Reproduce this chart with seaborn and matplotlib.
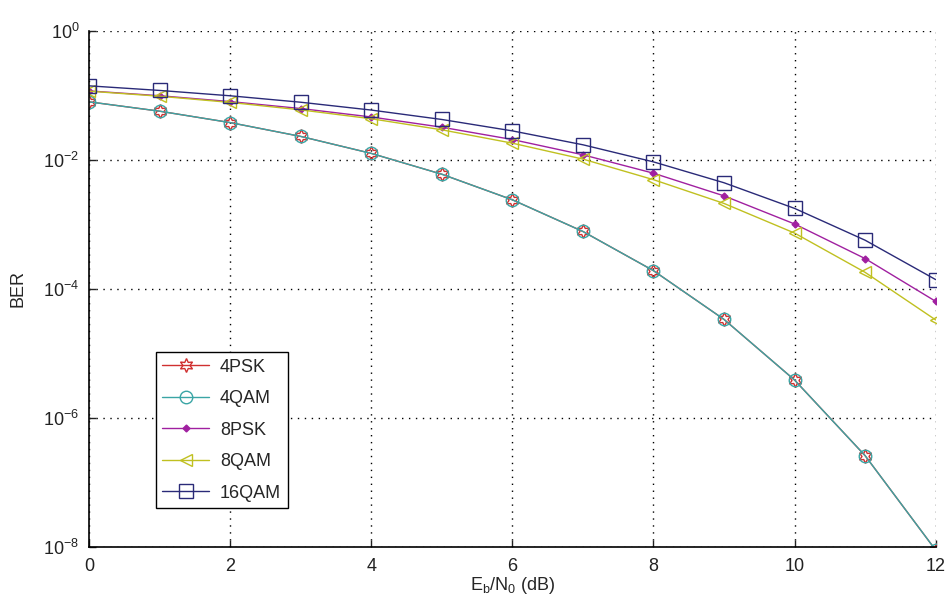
import numpy as np
import pandas as pd
import matplotlib
matplotlib.use("Agg")
import matplotlib.pyplot as plt
import seaborn as sns

ebn0 = [0, 1, 2, 3, 4, 5, 6, 7, 8, 9, 10, 11, 12]
ber_4psk = [0.0786, 0.0563, 0.0375, 0.0229, 0.0125, 0.00595, 0.00239, 7.73e-4, 1.91e-4, 3.36e-5, 3.87e-6, 2.61e-7, 9.0e-9]
ber_4qam = [0.0786, 0.0563, 0.0375, 0.0229, 0.0125, 0.00595, 0.00239, 7.73e-4, 1.91e-4, 3.36e-5, 3.87e-6, 2.61e-7, 9.0e-9]
ber_8psk = [0.116, 0.0977, 0.0793, 0.0619, 0.0458, 0.0318, 0.0205, 0.0119, 0.00617, 0.00275, 0.00101, 2.94e-4, 6.4e-5]
ber_8qam = [0.115, 0.096, 0.077, 0.059, 0.043, 0.029, 0.018, 0.0102, 0.0049, 0.0021, 7.3e-4, 1.8e-4, 3.3e-5]
ber_16qam = [0.139, 0.118, 0.0975, 0.0775, 0.0586, 0.0419, 0.0279, 0.0170, 0.00924, 0.00439, 0.00176, 5.66e-4, 1.39e-4]

series = [
    ("4PSK", ber_4psk, "#d03030", (6, 1, 0), 10, "none"),
    ("4QAM", ber_4qam, "#3aa5a5", "o", 9, "none"),
    ("8PSK", ber_8psk, "#a020a0", "D", 3.5, "#a020a0"),
    ("8QAM", ber_8qam, "#c0c020", "<", 9, "none"),
    ("16QAM", ber_16qam, "#2a2a78", "s", 10, "none"),
]

sns.set_style("white")
plt.rcParams["font.family"] = ["Liberation Sans", "DejaVu Sans"]
plt.rcParams["mathtext.fontset"] = "custom"
plt.rcParams["mathtext.rm"] = "Liberation Sans"
plt.rcParams["mathtext.it"] = "Liberation Sans"

fig, ax = plt.subplots(figsize=(9.48, 6.10), dpi=100)
fig.subplots_adjust(left=0.094, right=0.987, top=0.95, bottom=0.103)

for name, vals, col, mk, ms, fc in series:
    df = pd.DataFrame({"x": ebn0, "y": vals})
    sns.lineplot(data=df, x="x", y="y", ax=ax, color=col, marker=mk,
                 markersize=ms, markerfacecolor=fc, markeredgecolor=col,
                 markeredgewidth=1.0, linewidth=1.0, label=name)

ax.set_yscale("log")
ax.set_xlim(0, 12)
ax.set_ylim(1e-8, 1)
ax.set_xticks([0, 2, 4, 6, 8, 10, 12])
ax.set_yticks([1e0, 1e-2, 1e-4, 1e-6, 1e-8])
ax.set_yticklabels([r"$10^{0}$", r"$10^{-2}$", r"$10^{-4}$", r"$10^{-6}$", r"$10^{-8}$"])
ax.yaxis.set_minor_locator(matplotlib.ticker.NullLocator())
ax.tick_params(direction="in", length=5, width=1, labelsize=13, colors="#222222",
               left=True, bottom=True)
ax.tick_params(axis="x", pad=8)
ax.tick_params(axis="y", pad=7)
ax.grid(True, color="black", linestyle=(0, (1, 4)), linewidth=1.0)

for s in ["top", "right"]:
    ax.spines[s].set_visible(False)
for s in ["left", "bottom"]:
    ax.spines[s].set_color("black")
    ax.spines[s].set_linewidth(1.2)

ax.set_xlabel(r"$\mathregular{E_b/N_0}$ (dB)", fontsize=13, labelpad=0)
ax.set_ylabel("BER", fontsize=13, labelpad=12)

leg = ax.legend(loc="lower left", bbox_to_anchor=(0.079, 0.076), borderaxespad=0,
                fontsize=13, frameon=True, fancybox=False, edgecolor="black",
                framealpha=1, handlelength=2.6, handletextpad=0.6,
                borderpad=0.35, labelspacing=0.8)
leg.get_frame().set_linewidth(1.0)

fig.savefig("out.png", dpi=100)
